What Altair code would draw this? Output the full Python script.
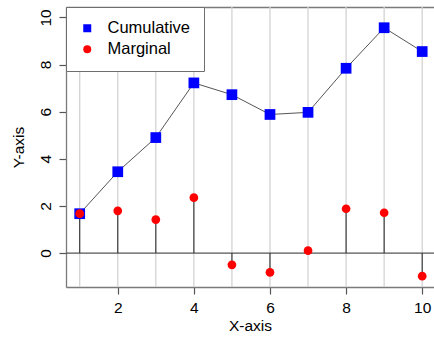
import altair as alt
import pandas as pd

# ---- data ----
x_vals = [1, 2, 3, 4, 5, 6, 7, 8, 9, 10]
cumulative = [1.67, 3.45, 4.90, 7.22, 6.72, 5.88, 5.97, 7.84, 9.56, 8.55]
marginal = [1.67, 1.79, 1.42, 2.35, -0.50, -0.82, 0.10, 1.88, 1.71, -0.98]
grid_x = [1, 2, 3, 4, 5, 6, 7, 8, 9, 10]
x_ticks = [2, 4, 6, 8, 10]
y_ticks = [0, 2, 4, 6, 8, 10]
series_names = ["Cumulative", "Marginal"]
series_colors = ["#0000FF", "#FF0000"]
series_shapes = ["square", "circle"]

x_domain = [0.64, 10.31]
y_domain = [-1.44, 10.44]

FONT = "Liberation Sans"

df_cum = pd.DataFrame({"x": x_vals, "y": cumulative, "series": series_names[0]})
df_marg = pd.DataFrame({"x": x_vals, "y": marginal, "y0": [0] * len(x_vals),
                        "series": series_names[1]})
df_grid = pd.DataFrame({"x": grid_x})
df_zero = pd.DataFrame({"y": [0]})

xs = alt.Scale(domain=x_domain, nice=False, zero=False)
ys = alt.Scale(domain=y_domain, nice=False, zero=False)

BORDER = "#7a7a7a"

y_axis = alt.Axis(
    values=y_ticks, grid=False, domain=True, domainColor=BORDER, domainWidth=1.3,
    tickColor="#555555", tickSize=7, tickWidth=1.2,
    labelAngle=270, labelAlign="center", labelBaseline="alphabetic", labelPadding=9,
    labelFont=FONT, labelFontSize=15.5, labelColor="black",
    title="Y-axis", titleFont=FONT, titleFontSize=15.5, titleFontWeight="normal",
    titleColor="black", titleAngle=270, titleAlign="center", titleBaseline="alphabetic",
    titleX=-43, titleY=140,
)

x_axis_bottom = alt.Axis(
    values=x_ticks, grid=False, domain=True, domainColor=BORDER, domainWidth=1.3,
    tickColor="#555555", tickSize=7, tickWidth=1.2, labelFlush=False,
    labelBaseline="alphabetic", labelPadding=18,
    labelFont=FONT, labelFontSize=15.5, labelColor="black",
    title="X-axis", titleFont=FONT, titleFontSize=15.5, titleFontWeight="normal",
    titleColor="black", titleBaseline="alphabetic", titleY=43,
)

x_axis_top = alt.Axis(
    orient="top", grid=False, domain=True, domainColor=BORDER, domainWidth=1.3,
    ticks=False, labels=False, title=None,
)

legend = alt.Legend(
    orient="none", legendX=0, legendY=0, title=None,
    fillColor="white", strokeColor="#6e6e6e", padding=13,
    labelFont=FONT, labelFontSize=16.5, labelColor="black",
    labelOffset=12, symbolSize=64, rowPadding=4,
    symbolStrokeWidth=0, symbolOpacity=1, zindex=1,
)

color_enc = alt.Color("series:N", scale=alt.Scale(domain=series_names, range=series_colors),
                      legend=legend)
shape_enc = alt.Shape("series:N", scale=alt.Scale(domain=series_names, range=series_shapes),
                      legend=legend)

grid = alt.Chart(df_grid).mark_rule(color="#d3d3d3", strokeWidth=1.3).encode(
    x=alt.X("x:Q", scale=xs, axis=x_axis_top)
)

zero = alt.Chart(df_zero).mark_rule(color="#555555", strokeWidth=1.2).encode(
    y=alt.Y("y:Q", scale=ys, axis=y_axis)
)

stems = alt.Chart(df_marg).mark_rule(color="#333333", strokeWidth=1.1).encode(
    x=alt.X("x:Q", scale=xs, axis=x_axis_bottom),
    y=alt.Y("y0:Q", scale=ys, axis=y_axis),
    y2="y:Q",
)

line = alt.Chart(df_cum).mark_line(color="#555555", strokeWidth=1).encode(
    x=alt.X("x:Q", scale=xs, axis=None),
    y=alt.Y("y:Q", scale=ys, axis=y_axis),
)

squares = alt.Chart(df_cum).mark_point(filled=True, opacity=1, size=115).encode(
    x=alt.X("x:Q", scale=xs, axis=None),
    y=alt.Y("y:Q", scale=ys, axis=y_axis),
    color=color_enc,
    shape=shape_enc,
)

circles = alt.Chart(df_marg).mark_point(filled=True, opacity=1, size=76).encode(
    x=alt.X("x:Q", scale=xs, axis=None),
    y=alt.Y("y:Q", scale=ys, axis=y_axis),
    color=color_enc,
    shape=shape_enc,
)

chart = alt.layer(grid, zero, stems, line, squares, circles).resolve_axis(
    x="independent"
).properties(
    width=368, height=280,
    autosize=alt.AutoSizeParams(type="none"),
    padding={"left": 66, "top": 7, "right": 0, "bottom": 54},
).configure_view(stroke=None).configure(background="white")

chart.save("out.html", embed_options={"renderer": "svg", "actions": False})
